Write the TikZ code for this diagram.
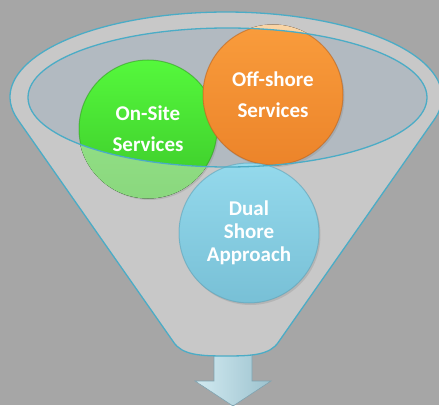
\documentclass[tikz,border=0pt]{standalone}
\usepackage{fontspec}
\setmainfont{Carlito}
\usetikzlibrary{shadows}
\definecolor{bgc}{HTML}{A6A6A6}
\definecolor{ringc}{HTML}{C8C8C8}
\definecolor{innerc}{HTML}{B2BAC1}
\definecolor{linec}{HTML}{4BACC6}
\definecolor{gtop}{HTML}{55F83C}
\definecolor{gbot}{HTML}{3CC82A}
\definecolor{gedge}{HTML}{2E9A1E}
\definecolor{fgtop}{HTML}{9AE68C}
\definecolor{fgbot}{HTML}{8AD87E}
\definecolor{otop}{HTML}{F99C3C}
\definecolor{obot}{HTML}{EC842A}
\definecolor{oedge}{HTML}{B8601A}
\definecolor{fotop}{HTML}{FAD4A4}
\definecolor{fobot}{HTML}{F6C08A}
\definecolor{btop}{HTML}{94D9EC}
\definecolor{bbot}{HTML}{78C0D6}
\definecolor{bedge}{HTML}{5AA0B6}
\definecolor{aleft}{HTML}{D2EAF1}
\definecolor{amid}{HTML}{EEF8FA}
\definecolor{aright}{HTML}{9CC2CE}
\definecolor{aedge}{HTML}{7FA3B0}
\def\funnelpath{(17.8,285.4) arc[start angle=195.4, end angle=-15.4, x radius=216, y radius=85]
  -- (278.5,63) .. controls (270,50) and (252,49) .. (226,49)
  .. controls (200,49) and (182,50) .. (173.5,63) -- cycle}
\begin{document}
\begin{tikzpicture}[x=1pt,y=1pt,
  ball/.style={circle, inner sep=0pt, minimum size=138pt, text=white,
    font=\bfseries\fontsize{21}{31}\selectfont, align=center, line width=1pt,
    draw opacity=0.55,
    drop shadow={opacity=0.25, shadow xshift=1.5pt, shadow yshift=-2pt}},
  outline/.style={draw=linec, line width=1.3pt}]
\useasboundingbox (0,0) rectangle (439,405);
\fill[bgc] (0,0) rectangle (439,405);
% arrow
\path[left color=aleft, middle color=amid, right color=aright, draw=aedge, line width=0.6pt]
  (214,56) -- (252,56) -- (252,24) -- (271,24) -- (233,-1) -- (195,24) -- (214,24) -- cycle;
% funnel body
\fill[ringc] \funnelpath;
\fill[innerc] (227.5,307.5) ellipse[x radius=199.5, y radius=69.5];
% circles inside the funnel
\node[ball, top color=gtop, bottom color=gbot, draw=gedge] (onsite) at (148,276) {On-Site\\Services};
\node[ball, minimum size=140pt, top color=otop, bottom color=obot, draw=oedge] (offshore) at (273,310) {Off-shore\\Services};
% faded parts outside the inner ellipse
\begin{scope}[even odd rule]
  \clip (0,0) rectangle (439,405) (227.5,307.5) ellipse[x radius=199.5, y radius=69.5];
  \fill[top color=fgtop, bottom color=fgbot] (onsite.center) circle[radius=69.5];
  \fill[top color=fotop, bottom color=fobot] (offshore.center) circle[radius=70.5];
\end{scope}
\node[ball, minimum size=140pt, top color=btop, bottom color=bbot, draw=bedge,
  font=\bfseries\fontsize{21}{23}\selectfont] (dual) at (249,172) {Dual\\Shore\\Approach};
% outlines
\draw[outline] (227.5,307.5) ellipse[x radius=199.5, y radius=69.5];
\draw[outline] \funnelpath;
\end{tikzpicture}
\end{document}
